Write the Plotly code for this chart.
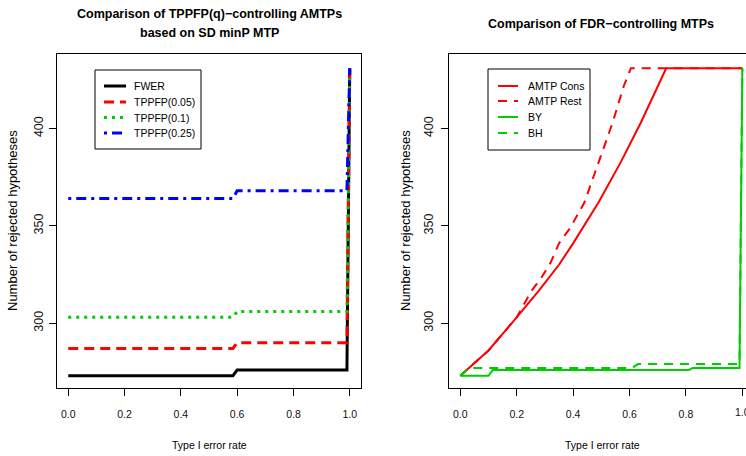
import plotly.graph_objects as go

# ---- data: number of rejected hypotheses vs. nominal Type I error rate ----
# Left panel: TPPFP(q)-controlling AMTPs based on SD minP MTP
alpha_left = [0.0, 0.585, 0.60, 0.99, 1.0]
fwer = [273, 273, 276, 276, 431]
tppfp_005 = [287, 287, 290, 290, 431]
tppfp_010 = [303, 303, 306, 306, 431]
tppfp_025 = [364, 364, 368, 368, 431]

# Right panel: FDR-controlling MTPs
alpha_cons = [0.0, 0.10, 0.20, 0.28, 0.35, 0.40, 0.49, 0.57, 0.64, 0.69, 0.73, 1.0]
amtp_cons = [273, 286, 303, 317, 330, 341, 362, 383, 403, 419, 431, 431]
alpha_rest = [0.0, 0.10, 0.20, 0.25, 0.29, 0.32, 0.35, 0.39, 0.44, 0.49, 0.54, 0.58, 0.605, 1.0]
amtp_rest = [273, 286, 303, 316, 324, 331, 341, 349, 362, 383, 403, 422, 431, 431]
alpha_by = [0.0, 0.10, 0.115, 0.81, 0.825, 0.99, 1.0]
by_rej = [273, 273, 276, 276, 277, 277, 431]
alpha_bh = [0.0, 0.03, 0.61, 0.63, 0.99, 1.0]
bh_rej = [273, 277, 277, 279, 279, 431]

x_ticks = [0.0, 0.2, 0.4, 0.6, 0.8, 1.0]
x_tick_text = ["0.0", "0.2", "0.4", "0.6", "0.8", "1.0"]
y_ticks = [300, 350, 400]

left_names = ["FWER", "TPPFP(0.05)", "TPPFP(0.1)", "TPPFP(0.25)"]
right_names = ["AMTP Cons", "AMTP Rest", "BY", "BH"]

RED, GREEN, BLUE, BLACK = "#FF0000", "#00CD00", "#0000FF", "#000000"
FONT = "Liberation Sans, Arial, Helvetica, sans-serif"

W, H = 746, 456


def fx(p):
    return p / W


def fy(p):
    return 1 - p / H


left_styles = [
    (BLACK, "solid", 3),
    (RED, "10px,6px", 3),
    (GREEN, "3px,5px", 3),
    (BLUE, "3px,5px,10px,5px", 3),
]
right_styles = [
    (RED, "solid", 2),
    (RED, "9px,7px", 2),
    (GREEN, "solid", 2),
    (GREEN, "9px,7px", 2),
]

fig = go.Figure()

left_series = [fwer, tppfp_005, tppfp_010, tppfp_025]
for name, ys, (c, d, w) in zip(left_names, left_series, left_styles):
    fig.add_trace(go.Scatter(x=alpha_left, y=ys, mode="lines", name=name,
                             line=dict(color=c, dash=d, width=w),
                             xaxis="x", yaxis="y", showlegend=False))

right_series = [(alpha_cons, amtp_cons), (alpha_rest, amtp_rest),
                (alpha_by, by_rej), (alpha_bh, bh_rej)]
for name, (xs, ys), (c, d, w) in zip(right_names, right_series, right_styles):
    fig.add_trace(go.Scatter(x=xs, y=ys, mode="lines", name=name,
                             line=dict(color=c, dash=d, width=w),
                             xaxis="x2", yaxis="y2", showlegend=False))

y_dom = [fy(388), fy(54)]
y_rng = [266.7, 438.3]

axis_common = dict(showline=True, linecolor="black", linewidth=1,
                   ticks="outside", ticklen=7, tickwidth=1, tickcolor="black",
                   showgrid=False, zeroline=False)
x_font = dict(family=FONT, size=10.5, color="#111")
y_font = dict(family=FONT, size=12.5, color="#111")

fig.update_layout(
    width=W, height=H,
    margin=dict(l=0, r=0, t=0, b=0),
    paper_bgcolor="white", plot_bgcolor="white",
    xaxis=dict(domain=[fx(57), fx(361)], range=[-0.04, 1.04], anchor="y",
               mirror=True, tickvals=x_ticks, ticktext=x_tick_text,
               ticklabelstandoff=9, tickfont=x_font, **axis_common),
    yaxis=dict(domain=y_dom, range=y_rng, anchor="x", mirror=True,
               tickvals=y_ticks, tickangle=-90, ticklabelstandoff=1,
               tickfont=y_font, **axis_common),
    # the right panel runs up to the page edge, so its last tick label
    # is drawn separately and clipped there
    xaxis2=dict(domain=[fx(449), 1.0], range=[-0.04, 1.013], anchor="y2",
                mirror=True, tickvals=x_ticks, ticktext=x_tick_text[:-1] + [""],
                ticklabelstandoff=9, tickfont=x_font, **axis_common),
    yaxis2=dict(domain=y_dom, range=y_rng, anchor="x2", mirror=False,
                tickvals=y_ticks, tickangle=-90, ticklabelstandoff=3,
                tickfont=y_font, **axis_common),
)

shapes = []
annotations = []


def text(x, y, s, size=10.5, bold=False, angle=0, xanchor="center"):
    annotations.append(dict(
        x=fx(x), y=fy(y), xref="paper", yref="paper", text=s, showarrow=False,
        xanchor=xanchor, yanchor="middle", textangle=angle,
        font=dict(family=FONT, size=size, color="black",
                  weight="bold" if bold else "normal")))


# titles
text(209, 14, "Comparison of TPPFP(q)\u2212controlling AMTPs", size=12.5, bold=True)
text(209, 33, "based on SD minP MTP", size=12.5, bold=True)
text(601, 24, "Comparison of FDR\u2212controlling MTPs", size=12.5, bold=True)

# axis titles
for cx in (209, 602):
    text(cx, 445, "Type I error rate")
for cx in (12, 405):
    text(cx, 221, "Number of rejected hypotheses", size=13, angle=-90)

# last x tick label of the right panel, clipped at the page edge
annotations.append(dict(
    x=x_ticks[-1], xref="x2", y=fy(412), yref="paper", text=x_tick_text[-1],
    showarrow=False, xanchor="left", yanchor="middle", xshift=-8.5,
    width=11, align="left", borderpad=0,
    font=dict(family=FONT, size=10.5, color="#111")))


def legend(box, line_x0, line_x1, text_x, rows, names, styles):
    x0, y0, x1, y1 = box
    shapes.append(dict(type="rect", xref="paper", yref="paper",
                       x0=fx(x0), x1=fx(x1), y0=fy(y1), y1=fy(y0),
                       line=dict(color="black", width=1), fillcolor="white"))
    for ry, name, (c, d, w) in zip(rows, names, styles):
        shapes.append(dict(type="line", xref="paper", yref="paper",
                           x0=fx(line_x0), x1=fx(line_x1), y0=fy(ry), y1=fy(ry),
                           line=dict(color=c, dash=d, width=w)))
        text(text_x, ry, name, xanchor="left")


legend((95, 70, 201, 149), 104, 126, 132, [86, 102, 117.5, 133],
       left_names, left_styles)
legend((488, 69, 590, 150), 498, 518, 526, [86, 101, 117, 133],
       right_names, right_styles)

fig.update_layout(shapes=shapes, annotations=annotations)

fig.write_html("out.html")
